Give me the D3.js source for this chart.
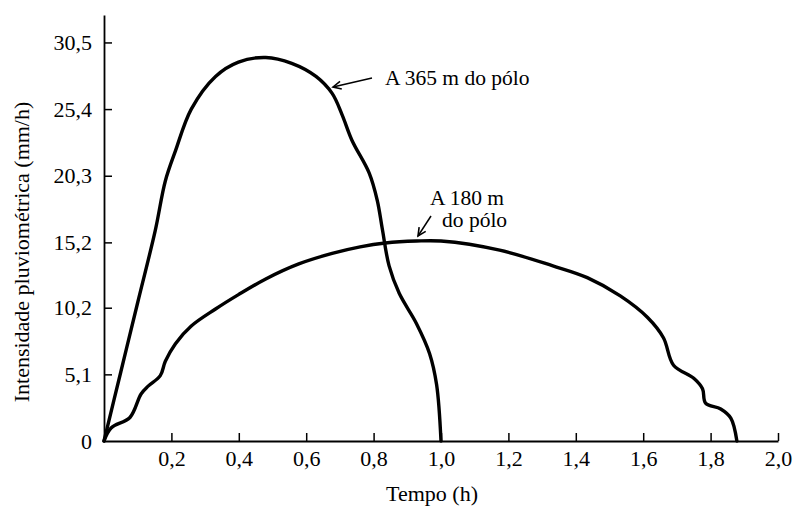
<!DOCTYPE html>
<html>
<head>
<meta charset="utf-8">
<script src="https://cdn.jsdelivr.net/npm/d3@7"></script>
<style>
  html, body { margin: 0; padding: 0; background: #fff; }
  svg { display: block; }
  text { font-family: "Liberation Serif", "DejaVu Serif", serif; fill: #000; }
</style>
</head>
<body>
<svg id="chart" width="796" height="506"></svg>
<script>
// ---- data ----
const xTicks = [0.2, 0.4, 0.6, 0.8, 1.0, 1.2, 1.4, 1.6, 1.8, 2.0];
const xTickLabels = ["0,2", "0,4", "0,6", "0,8", "1,0", "1,2", "1,4", "1,6", "1,8", "2,0"];
const yTicks = [0, 5.1, 10.2, 15.2, 20.3, 25.4, 30.5];
const yTickLabels = ["0", "5,1", "10,2", "15,2", "20,3", "25,4", "30,5"];

// curve "A 365 m do pólo": time (h) and intensity (mm/h)
const t365 = [0, 0.05, 0.10, 0.152, 0.182, 0.212, 0.259, 0.331, 0.399, 0.480, 0.557, 0.629, 0.677, 0.706, 0.736, 0.787, 0.811, 0.826, 0.846, 0.876, 0.927, 0.966, 0.987, 1.0];
const v365 = [0, 5.3, 10.6, 16.1, 19.9, 22.2, 25.4, 27.9, 29.0, 29.35, 28.9, 27.9, 26.6, 25.0, 23.0, 20.5, 18.4, 16.2, 13.4, 11.3, 9.0, 6.7, 4.3, 0];

// curve "A 180 m do pólo"
const t180 = [0, 0.021, 0.077, 0.110, 0.131, 0.167, 0.182, 0.212, 0.259, 0.331, 0.399, 0.480, 0.578, 0.677, 0.760, 0.835, 0.927, 1.0, 1.174, 1.332, 1.434, 1.532, 1.613, 1.660, 1.690, 1.750, 1.776, 1.785, 1.830, 1.860, 1.878];
const v180 = [0, 1.0, 1.8, 3.6, 4.2, 5.0, 6.1, 7.45, 8.8, 10.1, 11.2, 12.4, 13.55, 14.35, 14.85, 15.15, 15.3, 15.3, 14.6, 13.4, 12.5, 11.1, 9.45, 7.9, 5.8, 4.8, 4.0, 2.9, 2.45, 1.75, 0];

const xLabel = "Tempo (h)";
const yLabel = "Intensidade pluviométrica (mm/h)";
const note365 = "A 365 m do pólo";
const note180a = "A 180 m";
const note180b = "do pólo";

// ---- drawing ----
const svg = d3.select("#chart");
const x = d3.scaleLinear().domain([0, 2.0]).range([104, 778]);
const y = d3.scaleLinear().domain([0, 32.6]).range([441, 15]);

// x axis
const xAxis = d3.axisBottom(x)
  .tickValues(xTicks)
  .tickFormat((d, i) => xTickLabels[i])
  .tickSizeInner(-8)
  .tickSizeOuter(0)
  .tickPadding(9);
const gx = svg.append("g").attr("transform", `translate(0,${y(0)})`).call(xAxis);
gx.select(".domain").attr("stroke", "#000").attr("stroke-width", 1.8);
gx.selectAll(".tick line").attr("stroke", "#000").attr("stroke-width", 1.5);
gx.selectAll(".tick text").attr("font-size", 22).attr("font-family", "Liberation Serif");

// y axis
const yAxis = d3.axisLeft(y)
  .tickValues(yTicks)
  .tickFormat((d, i) => yTickLabels[i])
  .tickSizeInner(-8)
  .tickSizeOuter(0)
  .tickPadding(12);
const gy = svg.append("g").attr("transform", `translate(${x(0)},0)`).call(yAxis);
gy.select(".domain").attr("stroke", "#000").attr("stroke-width", 1.8);
gy.selectAll(".tick line").attr("stroke", "#000").attr("stroke-width", 1.5);
gy.selectAll(".tick text").attr("font-size", 22).attr("font-family", "Liberation Serif");
gy.selectAll(".tick").filter(d => d === 0).select("line").remove();

// curves
const line = d3.line()
  .x(d => x(d[0]))
  .y(d => y(d[1]))
  .curve(d3.curveCatmullRom.alpha(0.5));

svg.append("path")
  .datum(d3.zip(t365, v365))
  .attr("d", line)
  .attr("fill", "none").attr("stroke", "#000").attr("stroke-width", 3.4)
  .attr("stroke-linejoin", "round").attr("stroke-linecap", "round");

svg.append("path")
  .datum(d3.zip(t180, v180))
  .attr("d", line)
  .attr("fill", "none").attr("stroke", "#000").attr("stroke-width", 3.4)
  .attr("stroke-linejoin", "round").attr("stroke-linecap", "round");

// axis titles
svg.append("text")
  .attr("x", 432).attr("y", 501)
  .attr("text-anchor", "middle")
  .attr("font-size", 22)
  .text(xLabel);

svg.append("text")
  .attr("transform", "translate(29,252) rotate(-90)")
  .attr("text-anchor", "middle")
  .attr("font-size", 22)
  .text(yLabel);

// annotations
svg.append("text").attr("x", 385).attr("y", 85).attr("font-size", 21.5).text(note365);
svg.append("text").attr("x", 430).attr("y", 205).attr("font-size", 21.5).text(note180a);
svg.append("text").attr("x", 442).attr("y", 227).attr("font-size", 21.5).text(note180b);

function arrow(x1, y1, x2, y2) {
  svg.append("line")
    .attr("x1", x1).attr("y1", y1).attr("x2", x2).attr("y2", y2)
    .attr("stroke", "#000").attr("stroke-width", 1.5);
  const ang = Math.atan2(y2 - y1, x2 - x1);
  const L = 9, w = 0.45;
  const p1 = [x2 - L * Math.cos(ang - w), y2 - L * Math.sin(ang - w)];
  const p2 = [x2 - L * Math.cos(ang + w), y2 - L * Math.sin(ang + w)];
  svg.append("path")
    .attr("d", `M${p1[0]},${p1[1]}L${x2},${y2}L${p2[0]},${p2[1]}`)
    .attr("fill", "none").attr("stroke", "#000").attr("stroke-width", 1.6);
}
arrow(372, 78, 333, 87);
arrow(431, 216, 418, 236);
</script>
</body>
</html>
